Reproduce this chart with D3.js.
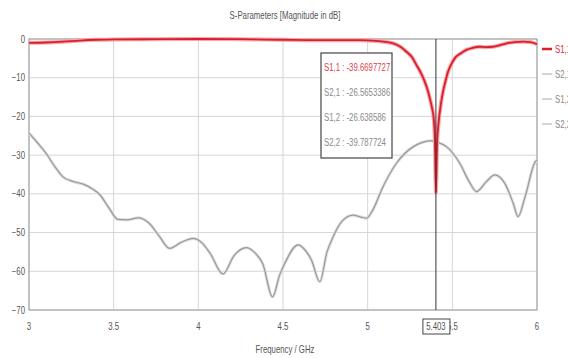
<!DOCTYPE html>
<html>
<head>
<meta charset="utf-8">
<script src="https://cdn.jsdelivr.net/npm/d3@7"></script>
<style>
  body { margin: 0; background: #fff; }
  text { font-family: "Liberation Sans", Arial, sans-serif; fill: #555; }
</style>
</head>
<body>
<svg class="chart" width="568" height="358"></svg>
<script>
// frequency (GHz) and magnitude (dB)
const s11Freq = [3.0, 3.1, 3.2, 3.3, 3.4, 3.5, 3.75, 4.0, 4.25, 4.5, 4.7, 4.85, 4.955, 5.05, 5.15, 5.2, 5.229, 5.26, 5.288, 5.315, 5.337, 5.355, 5.367, 5.38, 5.39, 5.397, 5.403, 5.41, 5.418, 5.426, 5.445, 5.46, 5.475, 5.494, 5.514, 5.55, 5.583, 5.62, 5.66, 5.7, 5.74, 5.78, 5.82, 5.87, 5.918, 5.96, 6.0];
const s11Db = [-1.0, -0.9, -0.7, -0.4, -0.2, -0.1, -0.05, 0, -0.05, -0.2, -0.3, -0.3, -0.3, -0.5, -1.1, -2.2, -3.3, -4.6, -6.7, -8.8, -11, -13.3, -15.3, -17.8, -20.5, -26, -39.67, -27, -22, -18.8, -13.6, -10.8, -8.4, -6.5, -5, -3.7, -2.8, -2.3, -2.0, -2.1, -2.0, -1.6, -1.1, -0.8, -0.7, -0.8, -1.3];

const s21Freq = [3.0, 3.05, 3.1, 3.15, 3.2, 3.26, 3.32, 3.37, 3.42, 3.47, 3.526, 3.58, 3.644, 3.71, 3.77, 3.83, 3.9, 3.97, 4.02, 4.07, 4.146, 4.21, 4.284, 4.34, 4.38, 4.438, 4.48, 4.51, 4.589, 4.63, 4.668, 4.717, 4.76, 4.796, 4.85, 4.914, 4.96, 4.993, 5.03, 5.09, 5.17, 5.27, 5.377, 5.403, 5.465, 5.544, 5.6, 5.642, 5.7, 5.75, 5.81, 5.86, 5.888, 5.93, 5.99, 6.0];
const s21Db = [-24.3, -26.8, -29.5, -32.8, -35.6, -36.8, -37.5, -38.6, -40.3, -43.5, -46.6, -46.7, -46.2, -47.6, -51, -54.1, -52.5, -51.5, -52.6, -55.4, -60.7, -56, -53.9, -55.5, -58, -66.6, -61, -58, -53.2, -54.5, -57.1, -62.7, -55, -51.1, -47, -45.5, -46, -46.3, -44.2, -38.2, -32.1, -27.8, -26.3, -26.57, -27.8, -32.1, -36.9, -39.4, -36.9, -35.1, -37.3, -42.5, -45.9, -40.7, -31.7, -31.3];

// S1,2 lies on S2,1 and S2,2 lies on S1,1 in the picture
const s12Db = s21Db;
const s22Db = s11Db;

const xTicks = [3, 3.5, 4, 4.5, 5, 5.5, 6];
const yTicks = [0, -10, -20, -30, -40, -50, -60, -70];

const markerFreq = 5.403;
const markerLabels = ['S1,1 : -39.6697727', 'S2,1 : -26.5653386', 'S1,2 : -26.638586', 'S2,2 : -39.787724'];
const legendNames = ['S1,1', 'S2,1', 'S1,2', 'S2,2'];

const plot = { left: 29, right: 537, top: 39, bottom: 310 };
const squeeze = 0.78; // the original font is a narrow one

const svg = d3.select('.chart');

const x = d3.scaleLinear().domain([3, 6]).range([plot.left, plot.right]);
const y = d3.scaleLinear().domain([0, -70]).range([plot.top, plot.bottom]);

// narrow text helper
const label = (sel, tx, ty) => sel
    .attr('transform', (d, i) => `translate(${tx(d, i)},${ty(d, i)}) scale(${squeeze},1)`);

// grid
svg.append('g').selectAll('line')
    .data(xTicks).enter().append('line')
    .attr('x1', d => x(d)).attr('x2', d => x(d))
    .attr('y1', plot.top).attr('y2', plot.bottom)
    .style('stroke', '#d6d6d6').style('stroke-width', 1);
svg.append('g').selectAll('line')
    .data(yTicks).enter().append('line')
    .attr('x1', plot.left).attr('x2', plot.right)
    .attr('y1', d => y(d)).attr('y2', d => y(d))
    .style('stroke', '#d6d6d6').style('stroke-width', 1);

svg.append('rect')
    .attr('x', plot.left).attr('y', plot.top)
    .attr('width', plot.right - plot.left).attr('height', plot.bottom - plot.top)
    .style('fill', 'none').style('stroke', '#9a9a9a').style('stroke-width', 1);

// axis labels
svg.append('g').selectAll('text')
    .data(yTicks).enter().append('text')
    .call(label, () => 25, d => y(d) + 3.5)
    .attr('text-anchor', 'end')
    .style('font-size', '10px')
    .text(d => d3.format('d')(d));

svg.append('g').selectAll('text')
    .data(xTicks).enter().append('text')
    .call(label, d => x(d), () => 330)
    .attr('text-anchor', 'middle')
    .style('font-size', '10px')
    .text(d => d);

svg.append('text')
    .call(label, () => 285, () => 353)
    .attr('text-anchor', 'middle')
    .style('font-size', '10px')
    .text('Frequency / GHz');

svg.append('text')
    .call(label, () => 285, () => 19)
    .attr('text-anchor', 'middle')
    .style('font-size', '10px')
    .text('S-Parameters [Magnitude in dB]');

// curves
const line = d3.line()
    .x(d => x(d[0]))
    .y(d => y(d[1]))
    .curve(d3.curveMonotoneX);

const zip = (fs, vs) => fs.map((f, i) => [f, vs[i]]);

const g = svg.append('g');
g.append('path').datum(zip(s21Freq, s21Db)).attr('d', line)
    .style('fill', 'none').style('stroke', '#dcdcdc').style('stroke-width', 3);
g.append('path').datum(zip(s21Freq, s12Db)).attr('d', line)
    .style('fill', 'none').style('stroke', '#9a9a9a').style('stroke-width', 1.2);
g.append('path').datum(zip(s11Freq, s22Db)).attr('d', line)
    .style('fill', 'none').style('stroke', '#f6a6ac').style('stroke-width', 4);
g.append('path').datum(zip(s11Freq, s11Db)).attr('d', line)
    .style('fill', 'none').style('stroke', '#d91f2c').style('stroke-width', 1.8);

// marker
svg.append('line')
    .attr('x1', x(markerFreq)).attr('x2', x(markerFreq))
    .attr('y1', plot.top).attr('y2', plot.bottom)
    .style('stroke', '#333').style('stroke-width', 1);

svg.append('rect')
    .attr('x', x(markerFreq) - 13).attr('y', 319)
    .attr('width', 27).attr('height', 15)
    .style('fill', '#fff').style('stroke', '#444').style('stroke-width', 1);
svg.append('text')
    .call(label, () => x(markerFreq), () => 330)
    .attr('text-anchor', 'middle')
    .style('font-size', '10px')
    .text(markerFreq);

const box = svg.append('g');
box.append('rect')
    .attr('x', 321).attr('y', 53)
    .attr('width', 71).attr('height', 105)
    .style('fill', '#fff').style('stroke', '#444').style('stroke-width', 1.2);
box.selectAll('text')
    .data(markerLabels).enter().append('text')
    .call(label, () => 324, (d, i) => 71 + i * 25)
    .style('font-size', '10px')
    .style('fill', (d, i) => i === 0 ? '#e0404a' : '#8a8a8a')
    .text(d => d);

// legend (runs off the right edge, as in the original)
const legend = svg.append('g');
legend.selectAll('line')
    .data(legendNames).enter().append('line')
    .attr('x1', 542).attr('x2', 552)
    .attr('y1', (d, i) => 49 + i * 25).attr('y2', (d, i) => 49 + i * 25)
    .style('stroke', (d, i) => i === 0 ? '#d91f2c' : '#aaa')
    .style('stroke-width', (d, i) => i === 0 ? 2.5 : 1);
legend.selectAll('text')
    .data(legendNames).enter().append('text')
    .call(label, () => 555, (d, i) => 53 + i * 25)
    .style('font-size', '10px')
    .style('fill', (d, i) => i === 0 ? '#d91f2c' : '#888')
    .text(d => d);
</script>
</body>
</html>
